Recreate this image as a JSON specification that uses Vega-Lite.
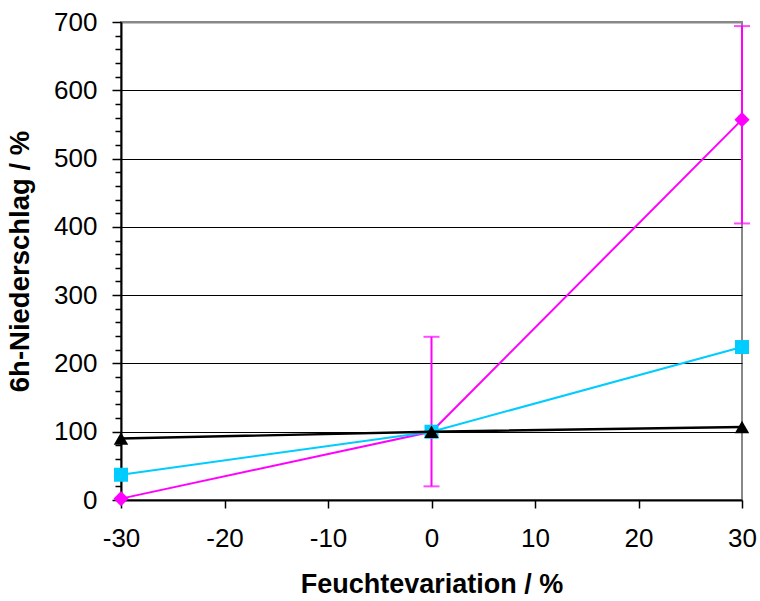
{
  "$schema": "https://vega.github.io/schema/vega-lite/v6.json",
  "width": 621,
  "height": 478,
  "autosize": {"type": "none"},
  "padding": {"left": 121, "top": 22, "right": 17, "bottom": 101},
  "background": "white",
  "config": {
    "font": "Liberation Sans",
    "view": {"stroke": "#888888", "strokeWidth": 2},
    "axis": {"labelFont": "Liberation Sans", "titleFont": "Liberation Sans", "labelColor": "black", "titleColor": "black", "labelOverlap": false, "labelFlush": false}
  },
  "data": {
    "values": [
      {"variation": -30, "reihe": "A", "wert": 90},
      {"variation": 0, "reihe": "A", "wert": 100},
      {"variation": 30, "reihe": "A", "wert": 107},
      {"variation": -30, "reihe": "B", "wert": 37},
      {"variation": 0, "reihe": "B", "wert": 100},
      {"variation": 30, "reihe": "B", "wert": 224},
      {"variation": -30, "reihe": "C", "wert": 2},
      {"variation": 0, "reihe": "C", "wert": 100, "unten": 20, "oben": 239},
      {"variation": 30, "reihe": "C", "wert": 557, "unten": 405, "oben": 694}
    ]
  },
  "encoding": {
    "x": {
      "field": "variation", "type": "quantitative",
      "scale": {"domain": [-30, 30], "nice": false, "zero": false},
      "axis": {
        "values": [-30, -20, -10, 0, 10, 20, 30],
        "labelExpr": "'' + datum.value",
        "title": "Feuchtevariation / %",
        "titleFontSize": 27, "titleFontWeight": "bold", "titlePadding": 20,
        "labelFontSize": 26, "labelPadding": 17,
        "tickSize": 8, "tickColor": "black", "tickWidth": 1.5,
        "domainColor": "black", "domainWidth": 2,
        "grid": false
      }
    }
  },
  "layer": [
    {
      "mark": {"type": "rule", "color": "#888888", "strokeWidth": 0},
      "encoding": {
        "y": {
          "field": "wert", "type": "quantitative",
          "scale": {"domain": [0, 700], "nice": false},
          "axis": {
            "values": [0, 20, 40, 60, 80, 100, 120, 140, 160, 180, 200, 220, 240, 260, 280, 300, 320, 340, 360, 380, 400, 420, 440, 460, 480, 500, 520, 540, 560, 580, 600, 620, 640, 660, 680, 700],
            "tickCount": 50,
            "labelExpr": "datum.value % 100 === 0 ? '' + datum.value : ''",
            "title": "6h-Niederschlag / %",
            "titleFontSize": 27.5, "titleFontWeight": "bold", "titlePadding": 19,
            "labelFontSize": 26, "labelPadding": 15,
            "tickSize": {"condition": {"test": "datum.value % 100 === 0", "value": 9}, "value": 6},
            "tickColor": "black", "tickWidth": 1.5,
            "domainColor": "black", "domainWidth": 2,
            "grid": true,
            "gridColor": {"condition": {"test": "datum.value === 700", "value": "#888888"}, "value": "black"},
            "gridWidth": {"condition": {"test": "datum.value === 700", "value": 2}, "value": 1.2},
            "gridOpacity": {"condition": {"test": "datum.value % 100 === 0 && datum.value > 0", "value": 1}, "value": 0}
          }
        }
      }
    },
    {
      "transform": [{"filter": "datum.reihe === 'C' && isValid(datum.oben)"}],
      "mark": {"type": "rule", "color": "#FF00FF", "strokeWidth": 2},
      "encoding": {
        "y": {"field": "unten", "type": "quantitative"},
        "y2": {"field": "oben"}
      }
    },
    {
      "transform": [{"filter": "datum.reihe === 'C' && isValid(datum.oben)"}],
      "mark": {"type": "tick", "orient": "horizontal", "color": "#FF00FF", "thickness": 2, "size": 16},
      "encoding": {"y": {"field": "oben", "type": "quantitative"}}
    },
    {
      "transform": [{"filter": "datum.reihe === 'C' && isValid(datum.unten)"}],
      "mark": {"type": "tick", "orient": "horizontal", "color": "#FF00FF", "thickness": 2, "size": 16},
      "encoding": {"y": {"field": "unten", "type": "quantitative"}}
    },
    {
      "transform": [{"filter": "datum.reihe === 'C'"}],
      "mark": {"type": "line", "color": "#FF00FF", "strokeWidth": 2, "point": {"shape": "diamond", "size": 230, "filled": true, "color": "#FF00FF", "opacity": 1}},
      "encoding": {"y": {"field": "wert", "type": "quantitative"}}
    },
    {
      "transform": [{"filter": "datum.reihe === 'B'"}],
      "mark": {"type": "line", "color": "#00CCFF", "strokeWidth": 2, "point": {"shape": "square", "size": 196, "filled": true, "color": "#00CCFF", "opacity": 1}},
      "encoding": {"y": {"field": "wert", "type": "quantitative"}}
    },
    {
      "transform": [{"filter": "datum.reihe === 'A'"}],
      "mark": {"type": "line", "color": "black", "strokeWidth": 2.4, "point": {"shape": "triangle-up", "size": 210, "filled": true, "color": "black", "opacity": 1}},
      "encoding": {"y": {"field": "wert", "type": "quantitative"}}
    }
  ]
}
